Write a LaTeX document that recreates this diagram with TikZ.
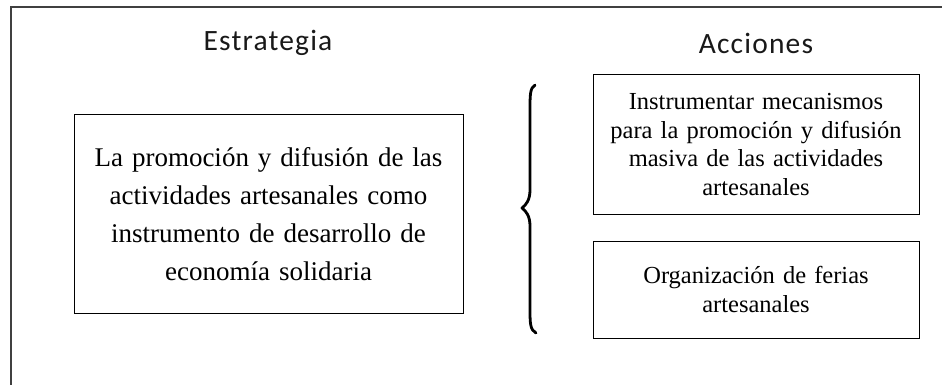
\documentclass[tikz,border=0pt]{standalone}
\usepackage{fontspec}
\setmainfont{Liberation Serif}
\newfontfamily\bodyfont{Liberation Serif}
\newfontfamily\headfont[LetterSpace=4]{Carlito}
\usetikzlibrary{positioning}

\begin{document}
\begin{tikzpicture}[x=1pt,y=-1pt]
    \pgfmathsetmacro{\framewidth}{942}
    \pgfmathsetmacro{\frameheight}{385}
    \pgfmathsetmacro{\bracewidth}{2.8}
    \providecommand{\headfontsize}{\headfont\fontsize{29.5pt}{34pt}\selectfont}
    \providecommand{\boxfontsize}{\bodyfont\fontsize{27pt}{38pt}\selectfont\hyphenpenalty=10000}
    \providecommand{\smallboxfontsize}{\bodyfont\fontsize{24.5pt}{28.5pt}\selectfont\hyphenpenalty=10000}
    \useasboundingbox (0,0) rectangle (\framewidth,\frameheight);
    \fill[white] (0,0) rectangle (\framewidth,\frameheight);
    \draw[line width=1.2pt,black!75] (11,\frameheight) -- (11,7) -- (\framewidth,7);
    \node[text=black!90,font=\headfontsize] (estrategia) at (268,43) {Estrategia};
    \node[text=black!90,font=\headfontsize] (acciones) at (756,43) {Acciones};
    \node[draw,line width=1pt,minimum width=389pt,minimum height=198pt,text width=380pt,align=center,inner sep=0,font=\boxfontsize] (strat) at (268.5,214)
    {La promoción y difusión de las\\ actividades artesanales como\\ instrumento de desarrollo de\\ economía solidaria};
    \node[draw,line width=1pt,minimum width=326pt,minimum height=139pt,text width=322pt,align=center,inner sep=0,font=\smallboxfontsize] (mecanismos) at (756,144.5)
    {Instrumentar mecanismos\\ para la promoción y difusión\\ masiva de las actividades\\ artesanales};
    \node[draw,line width=1pt,minimum width=326pt,minimum height=97pt,text width=322pt,align=center,inner sep=0,font=\smallboxfontsize] (ferias) at (756,289.5)
    {Organización de ferias\\ artesanales};
    % brace
    \draw[line width=\bracewidth pt,line cap=round,line join=round] (535,85) .. controls (530,88) and (530,95) .. (530,110) -- (530,190)
        .. controls (530,200) and (526,205) .. (522,208) .. controls (526,211) and (530,216) .. (530,226) -- (530,308)
        .. controls (530,323) and (530,330) .. (536,333);
\end{tikzpicture}
\end{document}
